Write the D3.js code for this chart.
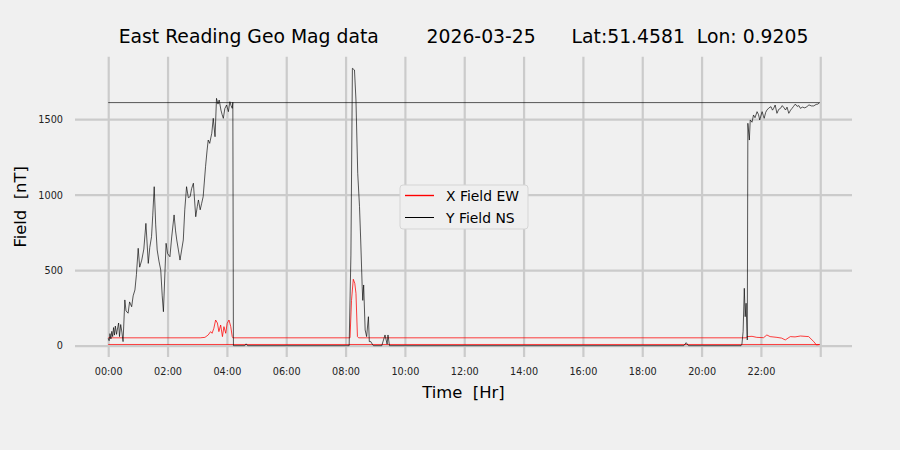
<!DOCTYPE html>
<html>
<head>
<meta charset="utf-8">
<script src="https://cdn.jsdelivr.net/npm/d3@7.9.0/dist/d3.min.js"></script>
<style>
  html, body { margin: 0; padding: 0; background: #f0f0f0; }
  svg { display: block; font-family: "DejaVu Sans", sans-serif; }
  text { white-space: pre; }
</style>
</head>
<body>
<svg id="chart" width="900" height="450"></svg>
<script>
// Readings in logger order: today's block, then yesterday's tail, then the wrapped last sample
const yFieldHours = [
  0.00, 0.03, 0.06, 0.09, 0.12, 0.15, 0.18, 0.21, 0.24, 0.28, 0.31, 0.35, 0.38, 0.42,
  0.46, 0.50, 0.56, 0.60, 0.67, 0.72, 0.79, 0.84, 0.90, 0.95, 1.01, 1.06, 1.13, 1.20,
  1.27, 1.31, 1.35, 1.40, 1.46, 1.50, 1.55, 1.60, 1.65, 1.71, 1.77, 1.82, 1.86, 1.95,
  2.00, 2.08, 2.14, 2.22, 2.27, 2.31, 2.36, 2.42, 2.48, 2.53, 2.58, 2.64, 2.70, 2.76,
  2.81, 2.87, 2.95, 3.00, 3.04, 3.10, 3.15, 3.20, 3.28, 3.33, 3.37, 3.42, 3.49, 3.54,
  3.60, 3.65, 3.70, 3.74, 3.80, 3.84, 3.88, 3.93, 3.99, 4.05, 4.10, 4.14, 4.18, 4.20,
  4.22, 4.60, 4.65, 4.70, 8.12, 8.18, 8.23, 8.30, 8.35, 8.41, 8.47, 8.51, 8.56, 8.58,
  8.61, 8.66, 8.71, 8.77, 8.80, 8.85, 8.90, 8.94, 9.22, 9.33, 9.40, 9.43, 9.48, 19.40,
  19.48, 19.56, 21.33, 21.36, 21.40, 21.44, 21.47, 21.50, 21.54, 21.56, 21.61, 21.64,
  21.70, 21.75, 21.80, 21.87, 21.92, 21.96, 22.04, 22.08, 22.11, 22.16, 22.20, 22.27,
  22.34, 22.39, 22.43, 22.48, 22.54, 22.60, 22.66, 22.72, 22.78, 22.83, 22.88, 22.94,
  23.00, 23.05, 23.10, 23.16, 23.22, 23.28, 23.33, 23.40, 23.48, 23.55, 23.62, 23.70,
  23.78, 23.86, 23.92, 23.98,
  0.00
];
const yFieldValues = [
  49, 33, 80, 45, 95, 60, 120, 70, 130, 75, 110, 150, 60, 140,
  90, 27, 303, 230, 215, 290, 258, 330, 369, 470, 645, 520, 567, 640,
  810, 680, 545, 650, 722, 860, 1053, 800, 634, 560, 501, 330, 225, 678,
  610, 589, 720, 866, 760, 700, 640, 567, 640, 700, 900, 1053, 980, 987,
  1040, 1076, 854, 920, 965, 900, 943, 987, 1185, 1290, 1362, 1340, 1407, 1506,
  1384, 1638, 1600, 1627, 1560, 1530, 1506, 1570, 1594, 1550, 1616, 1590, 1572, 1612,
  0, 0, 12, 0, 0, 600, 1837, 1826, 1627, 1142, 921, 700, 391, 300,
  402, 104, 60, 192, 27, 27, 10, 0, 0, 71, 10, 71, 0, 0,
  20, 0, 0, 10, 93, 380, 192, 281, 38, 1473, 1362, 1495,
  1480, 1528, 1510, 1550, 1530, 1495, 1550, 1525, 1506, 1545, 1560, 1575,
  1583, 1560, 1572, 1594, 1539, 1565, 1572, 1590, 1575, 1561, 1580, 1539,
  1560, 1572, 1585, 1600, 1585, 1590, 1572, 1580, 1575, 1583, 1595, 1588,
  1588, 1598, 1600, 1610,
  1610
];

const xFieldHours = [
  0.00, 3.10, 3.26, 3.37, 3.45, 3.50, 3.56, 3.62, 3.68, 3.73, 3.79, 3.85, 3.90, 3.96,
  4.01, 4.07, 4.13, 4.18, 4.20,
  4.22, 8.15, 8.20, 8.26, 8.31, 8.35, 8.40, 8.44, 21.50, 21.53, 21.70, 21.86, 22.09,
  22.20, 22.31, 22.54, 22.70, 22.82, 22.99, 23.15, 23.33, 23.61, 23.78, 23.87, 23.98,
  0.00
];
const xFieldValues = [
  52, 52, 55, 71, 93, 82, 115, 170, 150, 93, 137, 60, 126, 82,
  148, 170, 126, 60, 52,
  52, 52, 300, 440, 413, 347, 60, 52, 52, 60, 62, 55, 53,
  71, 60, 55, 50, 38, 60, 58, 64, 60, 27, 5, 8,
  8
];

const tickHours = [0, 2, 4, 6, 8, 10, 12, 14, 16, 18, 20, 22, 24];
const tickLabels = ['00:00', '02:00', '04:00', '06:00', '08:00', '10:00', '12:00',
  '14:00', '16:00', '18:00', '20:00', '22:00', ''];
const fieldTicks = [0, 500, 1000, 1500];

const seriesNames = ['X Field EW', 'Y Field NS'];
const seriesColors = ['#ff0000', '#000000'];
const chartTitle = 'East Reading Geo Mag data        2026-03-25      Lat:51.4581  Lon: 0.9205';

const svg = d3.select('#chart');
const plot = { left: 75, right: 852, top: 56.7, bottom: 357 };

svg.append('rect')
  .attr('width', 900)
  .attr('height', 450)
  .attr('fill', '#f0f0f0');

const x = d3.scaleLinear().domain([-1.12, 25.07]).range([plot.left, plot.right]);
const y = d3.scaleLinear().domain([-75, 1914]).range([plot.bottom, plot.top]);

// grid drawn through the axes with long inner ticks
const xGrid = svg.append('g')
  .attr('transform', `translate(0,${plot.bottom})`)
  .call(d3.axisBottom(x)
    .tickValues(tickHours)
    .tickSize(-(plot.bottom - plot.top))
    .tickFormat((d, i) => tickLabels[i]));

const yGrid = svg.append('g')
  .attr('transform', `translate(${plot.left},0)`)
  .call(d3.axisLeft(y)
    .tickValues(fieldTicks)
    .tickSize(-(plot.right - plot.left))
    .tickFormat(d3.format('d')));

[xGrid, yGrid].forEach((g) => {
  g.select('.domain').remove();
  g.selectAll('.tick line')
    .attr('stroke', '#cbcbcb')
    .attr('stroke-width', 2.2);
  g.selectAll('.tick text')
    .attr('fill', '#222')
    .attr('font-size', 9.7)
    .attr('font-family', '"DejaVu Sans", sans-serif');
});
xGrid.selectAll('.tick text').attr('dy', 0).attr('y', 18);
yGrid.selectAll('.tick text').attr('x', -12).attr('dy', '0.34em');

const line = d3.line()
  .x((d) => x(d[0]))
  .y((d) => y(d[1]));

const xPoints = d3.zip(xFieldHours, xFieldValues);
const yPoints = d3.zip(yFieldHours, yFieldValues);

svg.append('path')
  .attr('d', line(xPoints))
  .attr('fill', 'none')
  .attr('stroke', seriesColors[0])
  .attr('stroke-width', 0.75);

svg.append('path')
  .attr('d', line(yPoints))
  .attr('fill', 'none')
  .attr('stroke', seriesColors[1])
  .attr('stroke-width', 0.65);

svg.append('text')
  .attr('x', (plot.left + plot.right) / 2)
  .attr('y', 43)
  .attr('text-anchor', 'middle')
  .attr('font-size', 18.8)
  .attr('fill', '#000')
  .text(chartTitle);

svg.append('text')
  .attr('x', (plot.left + plot.right) / 2)
  .attr('y', 398)
  .attr('text-anchor', 'middle')
  .attr('font-size', 16.4)
  .attr('fill', '#000')
  .text('Time  [Hr]');

svg.append('text')
  .attr('transform', `translate(26,${(plot.top + plot.bottom) / 2}) rotate(-90)`)
  .attr('text-anchor', 'middle')
  .attr('font-size', 16.4)
  .attr('fill', '#000')
  .text('Field  [nT]');

const legend = svg.append('g').attr('transform', 'translate(400,185)');

legend.append('rect')
  .attr('width', 128)
  .attr('height', 44)
  .attr('rx', 3)
  .attr('fill', '#efefef')
  .attr('stroke', '#d5d5d5')
  .attr('stroke-width', 1);

seriesNames.forEach((name, i) => {
  const rowY = 10.5 + i * 22;
  legend.append('line')
    .attr('x1', 5)
    .attr('x2', 34)
    .attr('y1', rowY)
    .attr('y2', rowY)
    .style('stroke', seriesColors[i])
    .style('stroke-width', i === 0 ? 1.4 : 1);
  legend.append('text')
    .attr('x', 46)
    .attr('y', rowY + 5)
    .attr('font-size', 13.9)
    .attr('fill', '#000')
    .text(name);
});
</script>
</body>
</html>
